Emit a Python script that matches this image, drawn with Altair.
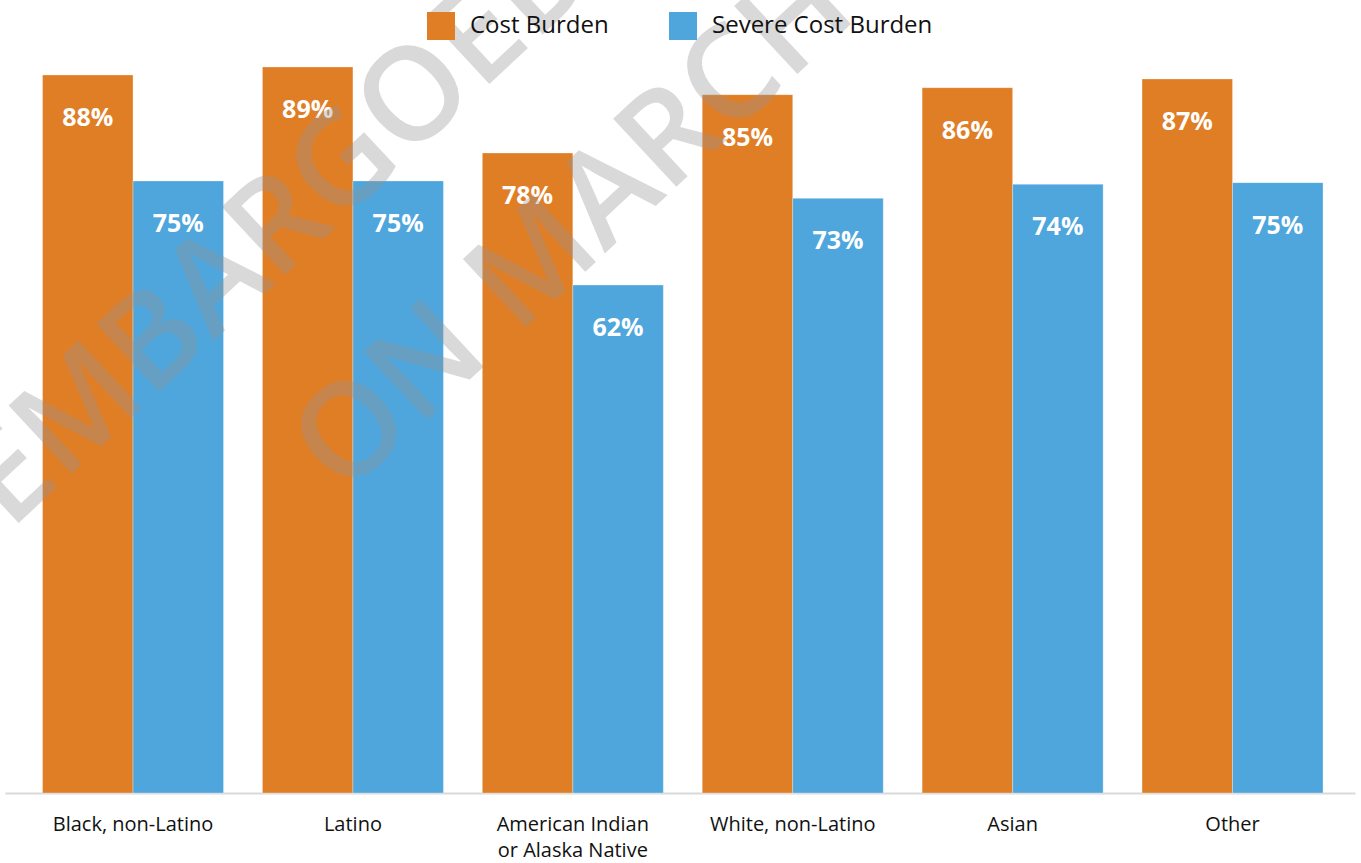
import altair as alt
import pandas as pd

categories = ["Black, non-Latino", "Latino", "American Indian or Alaska Native",
              "White, non-Latino", "Asian", "Other"]
series = ["Cost Burden", "Severe Cost Burden"]
cost_burden = [88.05, 89.04, 78.49, 85.64, 86.50, 87.57]
severe_burden = [75.06, 75.06, 62.30, 72.93, 74.65, 74.85]
cost_labels = ["88%", "89%", "78%", "85%", "86%", "87%"]
severe_labels = ["75%", "75%", "62%", "73%", "74%", "75%"]
colors = ["#E07E26", "#4EA6DC"]

rows = []
for c, v, l in zip(categories, cost_burden, cost_labels):
    rows.append({"category": c, "series": series[0], "value": v, "label": l})
for c, v, l in zip(categories, severe_burden, severe_labels):
    rows.append({"category": c, "series": series[1], "value": v, "label": l})
df = pd.DataFrame(rows)

FONT = "Open Sans"

x = alt.X("category:N", sort=categories,
          scale=alt.Scale(paddingInner=0.1769, paddingOuter=0.158, align=0.54),
          axis=alt.Axis(title=None, labelAngle=0, ticks=False,
                        domainColor="#d9d9d9", domainWidth=2,
                        labelFont=FONT, labelFontSize=20, labelColor="#111111",
                        labelPadding=21, labelLineHeight=26, labelLimit=0,
                        labelExpr="datum.label == 'American Indian or Alaska Native' ? ['American Indian', 'or Alaska Native'] : datum.label"))
xo = alt.XOffset("series:N", sort=series, scale=alt.Scale(paddingInner=0, paddingOuter=0))
y = alt.Y("value:Q", scale=alt.Scale(domain=[0, 97.25], nice=False), axis=None)

base = alt.Chart(df)

bars = base.mark_bar(stroke="#ffffff", strokeWidth=0.6, strokeOpacity=0.5).encode(
    x=x, xOffset=xo, y=y,
    color=alt.Color("series:N", sort=series,
                    scale=alt.Scale(domain=series, range=colors),
                    legend=alt.Legend(orient="none", legendX=422, legendY=12,
                                      direction="horizontal", title=None,
                                      symbolType="square", symbolSize=784,
                                      symbolStrokeWidth=0, symbolOpacity=1,
                                      labelFont=FONT, labelFontSize=24,
                                      labelColor="#111111", labelOffset=15,
                                      labelLimit=0, columnPadding=60)),
)

labels = base.mark_text(color="white", font=FONT, fontWeight="bold", fontSize=25,
                        baseline="middle", dy=43).encode(
    x=x, xOffset=xo, y=y, text="label:N")

wm1 = alt.Chart(pd.DataFrame({"t": ["EMBARGOED"]})).mark_text(
    angle=317, fontSize=130, font=FONT, fontWeight=600, color="#949494", opacity=0.35,
    align="center", baseline="middle").encode(
    x=alt.value(275), y=alt.value(226), text="t:N")
wm2 = alt.Chart(pd.DataFrame({"t": ["ON MARCH"]})).mark_text(
    angle=317, fontSize=130, font=FONT, fontWeight=600, color="#949494", opacity=0.35,
    align="center", baseline="middle").encode(
    x=alt.value(570), y=alt.value(228), text="t:N")

chart = alt.layer(bars, labels, wm1, wm2).properties(
    width=1350, height=793,
    autosize=alt.AutoSizeParams(type="none"),
    padding={"left": 5, "top": 0, "right": 6, "bottom": 70},
).configure_view(strokeWidth=0)

chart.save("out.html", embed_options={"renderer": "svg", "actions": False})
